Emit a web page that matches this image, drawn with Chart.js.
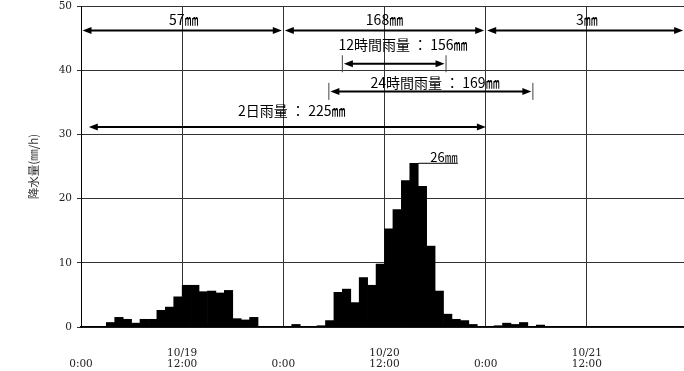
<!DOCTYPE html>
<html>
<head>
<meta charset="utf-8">
<script src="https://cdn.jsdelivr.net/npm/chart.js@4.4.1/dist/chart.umd.min.js"></script>
<style>
  html, body { margin: 0; padding: 0; background: #fff; overflow: hidden; }
  #wrap { width: 700px; height: 371px; }
</style>
</head>
<body>
<div id="wrap"><canvas id="myChart" width="700" height="371"></canvas></div>
<script>
// hourly rainfall (mm/h), one array per day, hour 0..23
var rainDay1 = [0, 0, 0, 0.7, 1.5, 1.2, 0.6, 1.2, 1.2, 2.6, 3.1, 4.7, 6.5, 6.5, 5.5, 5.6, 5.3, 5.7, 1.3, 1.1, 1.5, 0.1, 0.1, 0];
var rainDay2 = [0, 0.4, 0.1, 0.1, 0.2, 1.0, 5.4, 5.9, 3.8, 7.7, 6.5, 9.8, 15.3, 18.3, 22.8, 25.5, 21.9, 12.6, 5.6, 2.0, 1.2, 1.0, 0.4, 0.1];
var rainDay3 = [0.1, 0.2, 0.6, 0.4, 0.7, 0.1, 0.3, 0.1, 0, 0, 0, 0, 0, 0, 0, 0, 0, 0, 0, 0, 0, 0, 0, 0];

var tickHours = [0, 12, 24, 36, 48, 60, 72];
var tickLabels = [["", "0:00"], ["10/19", "12:00"], ["", "0:00"], ["10/20", "12:00"], ["", "0:00"], ["10/21", "12:00"], ""];
var yTicks = [0, 10, 20, 30, 40, 50];

// annotation arrows: hours from/to, y value of the line, label and its place
var arrows = [
  { from: 0, to: 24, y: 46.2, text: "57㎜", tx: 12.2, ty: 47.9, ends: "head" },
  { from: 24, to: 48, y: 46.2, text: "168㎜", tx: 36, ty: 47.9, ends: "head" },
  { from: 48, to: 71.6, y: 46.2, text: "3㎜", tx: 60, ty: 47.9, ends: "head" },
  { from: 31, to: 43.3, y: 41.0, text: "12時間雨量 ： 156㎜", tx: 38.2, ty: 44.0, ends: "bar" },
  { from: 29.4, to: 53.6, y: 36.7, text: "24時間雨量 ： 169㎜", tx: 42.0, ty: 38.0, ends: "bar" },
  { from: 0.75, to: 48.2, y: 31.15, text: "2日雨量 ： 225㎜", tx: 25.0, ty: 33.7, ends: "head" }
];
var peakText = "26㎜";

var rain = rainDay1.concat(rainDay2, rainDay3);
var points = [];
for (let i = 0; i < rain.length; i++) {
  points.push({ x: i + 0.5, y: rain[i] });
}

const gothic = '"Noto Sans CJK JP", "Noto Sans", sans-serif';
const serif = '"DejaVu Serif", "Liberation Serif", serif';

function head(ctx, x, y, dir) {
  ctx.beginPath();
  ctx.moveTo(x, y);
  ctx.lineTo(x - dir * 9, y - 3.5);
  ctx.lineTo(x - dir * 9, y + 3.5);
  ctx.closePath();
  ctx.fill();
}

const notes = {
  id: "notes",
  afterDatasetsDraw(chart) {
    const ctx = chart.ctx;
    const xs = chart.scales.x;
    const ys = chart.scales.y;
    ctx.save();
    ctx.fillStyle = "#000";
    ctx.strokeStyle = "#000";
    for (let i = 0; i < arrows.length; i++) {
      const a = arrows[i];
      const x1 = xs.getPixelForValue(a.from) + 1.5;
      const x2 = xs.getPixelForValue(a.to) - 1.5;
      const py = ys.getPixelForValue(a.y);
      ctx.lineWidth = 2;
      ctx.beginPath();
      ctx.moveTo(x1 + 4, py);
      ctx.lineTo(x2 - 4, py);
      ctx.stroke();
      head(ctx, x1, py, -1);
      head(ctx, x2, py, 1);
      if (a.ends == "bar") {
        ctx.lineWidth = 1;
        ctx.strokeStyle = "#444";
        ctx.beginPath();
        ctx.moveTo(x1 - 1.5, py - 8.5);
        ctx.lineTo(x1 - 1.5, py + 8.5);
        ctx.moveTo(x2 + 1.5, py - 8.5);
        ctx.lineTo(x2 + 1.5, py + 8.5);
        ctx.stroke();
        ctx.strokeStyle = "#000";
      }
      ctx.font = "14px " + gothic;
      ctx.textAlign = "center";
      ctx.textBaseline = "middle";
      ctx.fillText(a.text, xs.getPixelForValue(a.tx), ys.getPixelForValue(a.ty));
    }
    // leader line for the peak hour
    let peak = 0;
    for (let i = 1; i < rain.length; i++) if (rain[i] > rain[peak]) peak = i;
    const py = ys.getPixelForValue(rain[peak]);
    ctx.lineWidth = 1;
    ctx.beginPath();
    ctx.moveTo(xs.getPixelForValue(peak + 1), py);
    ctx.lineTo(xs.getPixelForValue(peak + 5.7), py);
    ctx.stroke();
    ctx.font = "13px " + gothic;
    ctx.textAlign = "center";
    ctx.textBaseline = "middle";
    ctx.fillText(peakText, xs.getPixelForValue(peak + 4.05), ys.getPixelForValue(rain[peak] + 1.0));
    ctx.restore();
  }
};

const config = {
  type: "bar",
  data: {
    datasets: [
      {
        label: "降水量",
        data: points,
        backgroundColor: "#000",
        borderWidth: 0,
        barPercentage: 1,
        categoryPercentage: 1,
      },
    ],
  },
  options: {
    responsive: false,
    animation: false,
    devicePixelRatio: 1,
    layout: { padding: { top: 6, right: 12, left: 0, bottom: 0 } },
    plugins: {
      legend: { display: false },
      tooltip: { enabled: false },
    },
    scales: {
      x: {
        type: "linear",
        min: 0,
        max: 72,
        offset: false,
        afterFit(scale) {
          scale.height = 44;
          scale.paddingLeft = 0;
          scale.paddingRight = 0;
        },
        afterBuildTicks(scale) { scale.ticks = tickHours.map(v => ({ value: v })); },
        grid: { color: "#333", lineWidth: 1, drawTicks: false, offset: false },
        border: { color: "#000", width: 1.5 },
        ticks: {
          autoSkip: false,
          maxRotation: 0,
          padding: 21,
          color: "#222",
          font: { family: serif, size: 10.5, lineHeight: 1.05 },
          callback: function (value) {
            const k = tickHours.indexOf(value);
            return k < 0 ? "" : tickLabels[k];
          },
        },
      },
      y: {
        min: 0,
        max: 50,
        afterFit(scale) {
          scale.width = 81;
          scale.paddingTop = 0;
          scale.paddingBottom = 0;
        },
        afterBuildTicks(scale) { scale.ticks = yTicks.map(v => ({ value: v })); },
        grid: { color: "#333", lineWidth: 1, tickLength: 4 },
        border: { color: "#000", width: 1 },
        ticks: {
          padding: 5,
          color: "#222",
          font: { family: serif, size: 10.5 },
        },
        title: {
          display: true,
          text: "降水量(㎜/h)",
          color: "#333",
          font: { family: gothic, size: 11.5 },
          padding: { top: 27, bottom: 0 },
        },
      },
    },
  },
  plugins: [notes],
};

const myChart = new Chart(document.getElementById("myChart"), config);
</script>
</body>
</html>
